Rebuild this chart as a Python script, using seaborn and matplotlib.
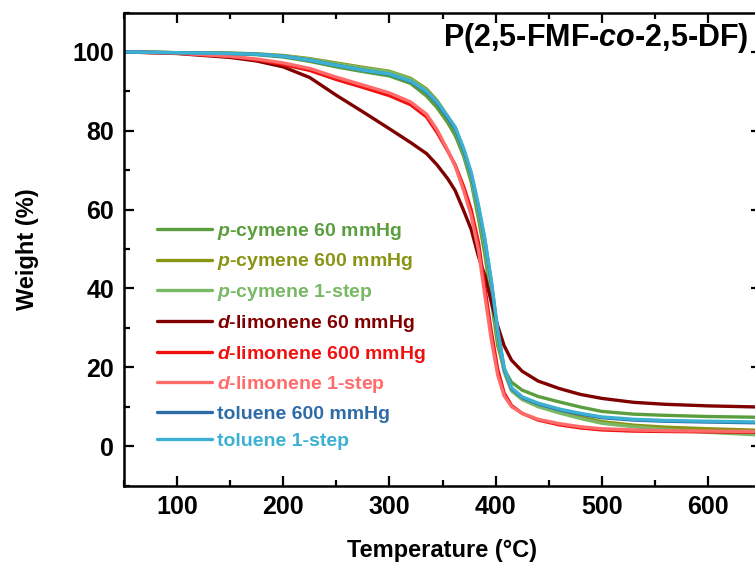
import pandas as pd
import seaborn as sns
import matplotlib.pyplot as plt
from matplotlib.ticker import MultipleLocator

# --- Data ---
temp = [50, 100, 150, 175, 200, 225, 250, 275, 300, 320, 335, 345, 355, 362, 370,
        377, 384, 390, 396, 402, 408, 415, 425, 440, 460, 480, 500, 530, 560, 600, 650]

p_cym_60 = [100, 99.8, 99.6, 99.3, 98.7, 97.6, 96.2, 95.0, 93.9, 92.0, 88.8, 85.8, 82.0, 78.8, 73.5,
            67.0, 57.5, 48.5, 37.0, 25.5, 19.5, 16.2, 14.2, 12.6, 11.2, 9.9, 8.8, 8.1, 7.8, 7.5, 7.3]
p_cym_600 = [100, 99.8, 99.7, 99.5, 99.1, 98.3, 97.2, 96.1, 95.1, 93.3, 90.6, 87.6, 83.6, 80.8, 75.0,
             68.8, 60.0, 51.5, 40.5, 28.5, 19.5, 14.5, 12.3, 10.6, 8.9, 7.4, 6.2, 5.3, 4.8, 4.4, 4.0]
p_cym_1step = [100, 99.8, 99.7, 99.5, 99.0, 98.2, 97.0, 95.9, 95.0, 93.1, 90.3, 87.2, 83.2, 80.3, 74.4,
               68.0, 59.0, 50.5, 39.5, 27.5, 18.8, 14.0, 11.8, 10.0, 8.4, 7.0, 5.8, 4.9, 4.2, 3.5, 2.8]
d_lim_60 = [100, 99.6, 98.6, 97.7, 96.2, 93.5, 89.0, 84.8, 80.5, 77.0, 74.2, 71.3, 67.8, 64.8, 59.7,
            55.0, 48.0, 43.2, 36.5, 30.5, 25.5, 21.8, 19.0, 16.5, 14.6, 13.1, 12.1, 11.1, 10.6, 10.2, 9.9]
d_lim_600 = [100, 99.7, 98.8, 98.0, 96.8, 95.3, 93.0, 91.0, 88.9, 86.6, 83.5, 79.5, 74.8, 71.3, 65.8,
             60.0, 51.5, 40.0, 29.0, 19.5, 13.5, 10.3, 8.3, 6.6, 5.4, 4.6, 4.1, 3.8, 3.7, 3.6, 3.5]
d_lim_1step = [100, 99.7, 98.9, 98.2, 97.2, 95.8, 93.6, 91.6, 89.6, 87.3, 84.2, 80.2, 75.0, 71.0, 64.8,
               58.5, 49.5, 38.0, 27.0, 18.0, 12.8, 10.0, 8.3, 6.8, 5.7, 4.9, 4.4, 4.1, 3.9, 3.8, 3.7]
tol_600 = [100, 99.8, 99.6, 99.4, 98.9, 97.9, 96.6, 95.4, 94.3, 92.5, 89.8, 87.0, 83.2, 80.5, 75.0,
           69.0, 60.5, 52.0, 41.5, 29.0, 19.7, 14.6, 12.3, 10.7, 9.2, 8.1, 7.2, 6.6, 6.3, 6.1, 5.9]
tol_1step = [100, 99.8, 99.6, 99.4, 98.9, 97.9, 96.6, 95.4, 94.4, 92.6, 90.0, 87.3, 83.6, 80.9, 75.5,
             69.5, 61.0, 52.5, 42.0, 29.5, 20.0, 14.8, 12.5, 10.9, 9.4, 8.3, 7.4, 6.8, 6.5, 6.3, 6.1]

labels = [r"$p$-cymene 60 mmHg", r"$p$-cymene 600 mmHg", r"$p$-cymene 1-step",
          r"$d$-limonene 60 mmHg", r"$d$-limonene 600 mmHg", r"$d$-limonene 1-step",
          "toluene 600 mmHg", "toluene 1-step"]
series = [p_cym_60, p_cym_600, p_cym_1step, d_lim_60, d_lim_600, d_lim_1step, tol_600, tol_1step]
colors = ["#5a9e3e", "#8a9414", "#79b865", "#800000", "#f01010", "#ff6b6b", "#2e6ca8", "#3bb0d2"]

df = pd.concat([pd.DataFrame({"Temperature": temp, "Weight": w, "sample": lab})
                for lab, w in zip(labels, series)], ignore_index=True)

# --- Style ---
sns.set_style("ticks")
plt.rcParams["font.family"] = ["Liberation Sans", "DejaVu Sans"]
plt.rcParams["font.weight"] = "bold"
plt.rcParams["text.color"] = "black"
plt.rcParams["axes.labelcolor"] = "black"
plt.rcParams["axes.edgecolor"] = "black"
plt.rcParams["xtick.color"] = "black"
plt.rcParams["ytick.color"] = "black"
plt.rcParams["mathtext.fontset"] = "custom"
plt.rcParams["mathtext.it"] = "Liberation Sans:bold:italic"
plt.rcParams["mathtext.rm"] = "Liberation Sans:bold"
plt.rcParams["mathtext.bf"] = "Liberation Sans:bold"

fig = plt.figure(figsize=(7.55, 5.66), dpi=100)
ax = fig.add_axes([124 / 755, 80.5 / 566, 637 / 755, 473 / 566])

sns.lineplot(data=df, x="Temperature", y="Weight", hue="sample", hue_order=labels,
             palette=colors, estimator=None, sort=False, linewidth=2.4, ax=ax)

ax.set_xlim(50, 650)
ax.set_ylim(-10, 110)
ax.xaxis.set_major_locator(MultipleLocator(100))
ax.xaxis.set_minor_locator(MultipleLocator(50))
ax.yaxis.set_major_locator(MultipleLocator(20))
ax.yaxis.set_minor_locator(MultipleLocator(10))
ax.set_xticks([100, 200, 300, 400, 500, 600])
ax.tick_params(which="both", direction="in", top=True, right=True, width=1.6,
               labelsize=18, colors="black")
ax.tick_params(which="major", length=7, pad=7)
ax.tick_params(which="minor", length=4)
for s in ax.spines.values():
    s.set_linewidth(1.8)
    s.set_color("black")

ax.set_xlabel("Temperature (\u00b0C)", fontsize=17, fontweight="bold", labelpad=14)
ax.set_ylabel("Weight (%)", fontsize=17, fontweight="bold", labelpad=24)

ax.text(0.98, 0.946, r"P(2,5-FMF-$co$-2,5-DF)", transform=ax.transAxes,
        ha="right", va="center", fontsize=22, fontweight="bold")

handles, _ = ax.get_legend_handles_labels()
ax.legend(handles, labels, loc="upper left", bbox_to_anchor=(0.052, 0.56), frameon=False,
          labelcolor="linecolor", prop={"size": 14, "weight": "bold"}, handlelength=2.8,
          handletextpad=0.3, labelspacing=0.5, borderpad=0, borderaxespad=0)

fig.savefig("out.png", dpi=100)
